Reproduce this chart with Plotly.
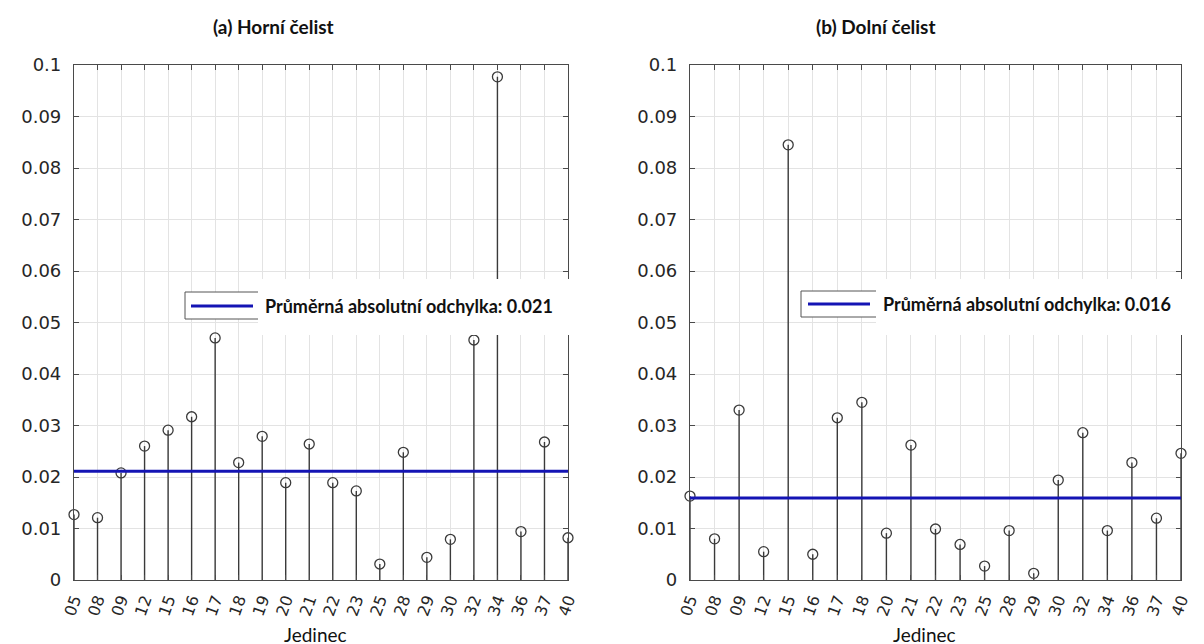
import plotly.graph_objects as go

# ---------------- data ----------------
upper_labels = ["05", "08", "09", "12", "15", "16", "17", "18", "19", "20", "21",
                "22", "23", "25", "28", "29", "30", "32", "34", "36", "37", "40"]
upper_values = [0.0127, 0.0121, 0.0208, 0.0260, 0.0291, 0.0317, 0.0470, 0.0228,
                0.0279, 0.0189, 0.0264, 0.0189, 0.0173, 0.0031, 0.0248, 0.0044,
                0.0079, 0.0466, 0.0977, 0.0094, 0.0268, 0.0082]
upper_mean = 0.0211

lower_labels = ["05", "08", "09", "12", "15", "16", "17", "18", "20", "21", "22",
                "23", "25", "28", "29", "30", "32", "34", "36", "37", "40"]
lower_values = [0.0163, 0.0080, 0.0330, 0.0055, 0.0845, 0.0050, 0.0315, 0.0345,
                0.0091, 0.0262, 0.0099, 0.0069, 0.0027, 0.0096, 0.0013, 0.0194,
                0.0286, 0.0096, 0.0228, 0.0120, 0.0246]
lower_mean = 0.0159

y_tickvals = [0, 0.01, 0.02, 0.03, 0.04, 0.05, 0.06, 0.07, 0.08, 0.09, 0.1]
y_ticktext = ["0", "0.01", "0.02", "0.03", "0.04", "0.05", "0.06", "0.07", "0.08", "0.09", "0.1"]

panel_titles = ["(a) Horní čelist", "(b) Dolní čelist"]
x_title = "Jedinec"
legend_prefix = "Průměrná absolutní odchylka: "

# ---------------- style ----------------
W, H = 1204, 644
STEM = "#3a3a3a"
BLUE = "#1414b4"
AXIS = "#4a4a4a"
GRID = "#e3e3e3"
YTICKFONT = dict(family="DejaVu Sans", size=18, color="#262626")
XTICKFONT = dict(family="DejaVu Sans", size=16, color="#262626")


def px(x):
    return x / W


def py(y):
    return 1 - y / H


fig = go.Figure()

panels = [
    dict(labels=upper_labels, values=upper_values, mean=upper_mean, xa="x", ya="y",
         dom=[px(66), px(560)]),
    dict(labels=lower_labels, values=lower_values, mean=lower_mean, xa="x2", ya="y2",
         dom=[px(682), px(1173)]),
]

for p in panels:
    n = len(p["values"])
    idx = list(range(n))
    sx, sy = [], []
    for i, v in zip(idx, p["values"]):
        sx += [i, i, None]
        sy += [0, v, None]
    fig.add_trace(go.Scatter(x=sx, y=sy, mode="lines", xaxis=p["xa"], yaxis=p["ya"],
                             line=dict(color=STEM, width=1.4), showlegend=False,
                             hoverinfo="skip"))
    fig.add_trace(go.Scatter(x=idx, y=p["values"], mode="markers", xaxis=p["xa"], yaxis=p["ya"],
                             marker=dict(symbol="circle-open", size=10, color=STEM,
                                         line=dict(color=STEM, width=1.3)),
                             cliponaxis=False, showlegend=False))
    fig.add_trace(go.Scatter(x=[0, n - 1], y=[p["mean"], p["mean"]], mode="lines",
                             xaxis=p["xa"], yaxis=p["ya"],
                             line=dict(color=BLUE, width=3), showlegend=False))

common_axis = dict(showline=True, linecolor=AXIS, linewidth=1.2, mirror="allticks",
                   ticks="inside", ticklen=5, tickwidth=1.2, tickcolor=AXIS, showgrid=True,
                   gridcolor=GRID, gridwidth=1, zeroline=False, automargin=False)

ydom = [py(572), py(57)]
for k, p in enumerate(panels):
    n = len(p["values"])
    sfx = "" if k == 0 else "2"
    fig.layout["xaxis" + sfx] = dict(common_axis, domain=p["dom"], range=[0, n - 1],
                                      tickvals=list(range(n)), ticktext=p["labels"],
                                      tickangle=-70, anchor="y" + sfx, tickfont=XTICKFONT,
                                      ticklabelstandoff=3)
    fig.layout["yaxis" + sfx] = dict(common_axis, domain=ydom, range=[0, 0.1],
                                      tickvals=y_tickvals, ticktext=y_ticktext,
                                      anchor="x" + sfx, tickfont=YTICKFONT,
                                      ticklabelstandoff=8)

shapes = []
annotations = []

# legend composites
leg = [
    dict(box=(177, 284, 262, 311), line=(183, 245, 298), white=(250, 271, 600, 327),
         text_x=255, text_y=298, mean=upper_mean),
    dict(box=(793, 283, 880, 309), line=(800, 862, 296), white=(868, 271, 1204, 327),
         text_x=873, text_y=296, mean=lower_mean),
]
for L in leg:
    bx0, by0, bx1, by1 = L["box"]
    shapes.append(dict(type="rect", xref="paper", yref="paper", x0=px(bx0), x1=px(bx1),
                       y0=py(by1), y1=py(by0), line=dict(color="#555555", width=1),
                       fillcolor="white", layer="above"))
    lx0, lx1, ly = L["line"]
    shapes.append(dict(type="line", xref="paper", yref="paper", x0=px(lx0), x1=px(lx1),
                       y0=py(ly), y1=py(ly), line=dict(color=BLUE, width=3), layer="above"))
    wx0, wy0, wx1, wy1 = L["white"]
    shapes.append(dict(type="rect", xref="paper", yref="paper", x0=px(wx0), x1=px(wx1),
                       y0=py(wy1), y1=py(wy0), line=dict(width=0),
                       fillcolor="white", layer="above"))
    annotations.append(dict(xref="paper", yref="paper", x=px(L["text_x"]), y=py(L["text_y"]),
                            xanchor="left", yanchor="middle", showarrow=False,
                            text="<b>" + legend_prefix + f"{L['mean']:.3f}" + "</b>",
                            font=dict(family="Lato", size=18, color="#111111")))

# titles
for t, cx in zip(panel_titles, [265, 868]):
    annotations.append(dict(xref="paper", yref="paper", x=px(cx), y=py(19),
                            xanchor="center", yanchor="middle", showarrow=False,
                            text="<b>" + t + "</b>",
                            font=dict(family="Lato", size=19, color="#111111")))
for cx in [307, 916]:
    annotations.append(dict(xref="paper", yref="paper", x=px(cx), y=py(626),
                            xanchor="center", yanchor="middle", showarrow=False,
                            text=x_title, font=dict(family="Lato", size=19, color="#111111")))

fig.update_layout(width=W, height=H, margin=dict(l=0, r=0, t=0, b=0),
                  paper_bgcolor="white", plot_bgcolor="white",
                  shapes=shapes, annotations=annotations, showlegend=False)

fig.write_html("out.html")
